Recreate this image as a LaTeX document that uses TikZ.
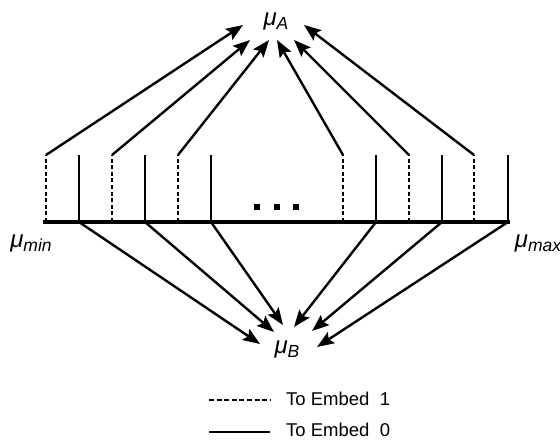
\documentclass[tikz,border=0pt]{standalone}
\usepackage{fontspec}
\setmainfont{Liberation Sans}
\usetikzlibrary{arrows.meta}

% mu with an italic subscript
\newcommand{\mulabel}[1]{{\fontsize{24}{24}\selectfont\itshape μ\raisebox{-4pt}{\fontsize{17.5}{17.5}\selectfont #1}}}

\begin{document}
\begin{tikzpicture}[x=1pt,y=-1pt,
  thin line/.style={line width=2.4pt},
  axis line/.style={line width=4.5pt},
  tick one/.style={thin line, dash pattern=on 4pt off 2.6pt},
  tick zero/.style={thin line},
  embed arrow/.style={thin line, -{Stealth[length=17pt,width=13pt,inset=3pt]}},
  mulab/.style={inner sep=0pt},
  legend text/.style={inner sep=0pt, anchor=west, font=\fontsize{18.5}{18.5}\selectfont},
  dotsq/.style={fill=black, minimum size=6.5pt, inner sep=0pt, draw=none}]

\useasboundingbox (0,0) rectangle (560,441);

% labels
\node[mulab] (muA) at (276,21) {\mulabel{A}};
\node[mulab] (muB) at (287,349) {\mulabel{B}};
\node[mulab] (mumin) at (31,243) {\mulabel{min}};
\node[mulab] (mumax) at (538,243) {\mulabel{max}};

% axis
\coordinate (axL) at (43,222);
\coordinate (axR) at (510,222);
\draw[axis line] (axL) -- (axR);

% ticks: dashed (embed 1) and solid (embed 0), alternating
\foreach \i/\x in {1/46,2/112,3/178,4/343,5/409,6/474}{
  \coordinate (d\i top) at (\x,155);
  \coordinate (d\i bot) at (\x,222);
  \draw[tick one] (d\i bot) -- (d\i top);
}
\foreach \i/\x in {1/79,2/145,3/211,4/376,5/442,6/508}{
  \coordinate (s\i top) at (\x,155);
  \coordinate (s\i bot) at (\x,222);
  \draw[tick zero] (s\i bot) -- (s\i top);
}

% ellipsis squares
\node[dotsq] (dot1) at (257,207) {};
\node[dotsq] (dot2) at (277,207) {};
\node[dotsq] (dot3) at (296,207) {};

% arrow ends around mu_A
\coordinate (a1) at (243,25);
\coordinate (a2) at (250,40);
\coordinate (a3) at (269,40);
\coordinate (a4) at (277,40);
\coordinate (a5) at (294,40);
\coordinate (a6) at (304,25);
% arrow ends around mu_B
\coordinate (b1) at (260,344);
\coordinate (b2) at (274,332);
\coordinate (b3) at (283,325);
\coordinate (b4) at (294,327);
\coordinate (b5) at (312,331);
\coordinate (b6) at (317,347);

\foreach \i in {1,...,6}{
  \draw[embed arrow] (d\i top) -- (a\i);
  \draw[embed arrow] (s\i bot) -- (b\i);
}

% legend
\coordinate (l1a) at (209,400);
\coordinate (l1b) at (270,400);
\coordinate (l0a) at (209,432);
\coordinate (l0b) at (270,432);
\draw[thin line, dash pattern=on 5pt off 2.6pt] (l1a) -- (l1b);
\draw[thin line] (l0a) -- (l0b);
\node[legend text] (leg1) at (286,399) {To Embed\ \ 1};
\node[legend text] (leg0) at (286,430) {To Embed\ \ 0};

\end{tikzpicture}
\end{document}
